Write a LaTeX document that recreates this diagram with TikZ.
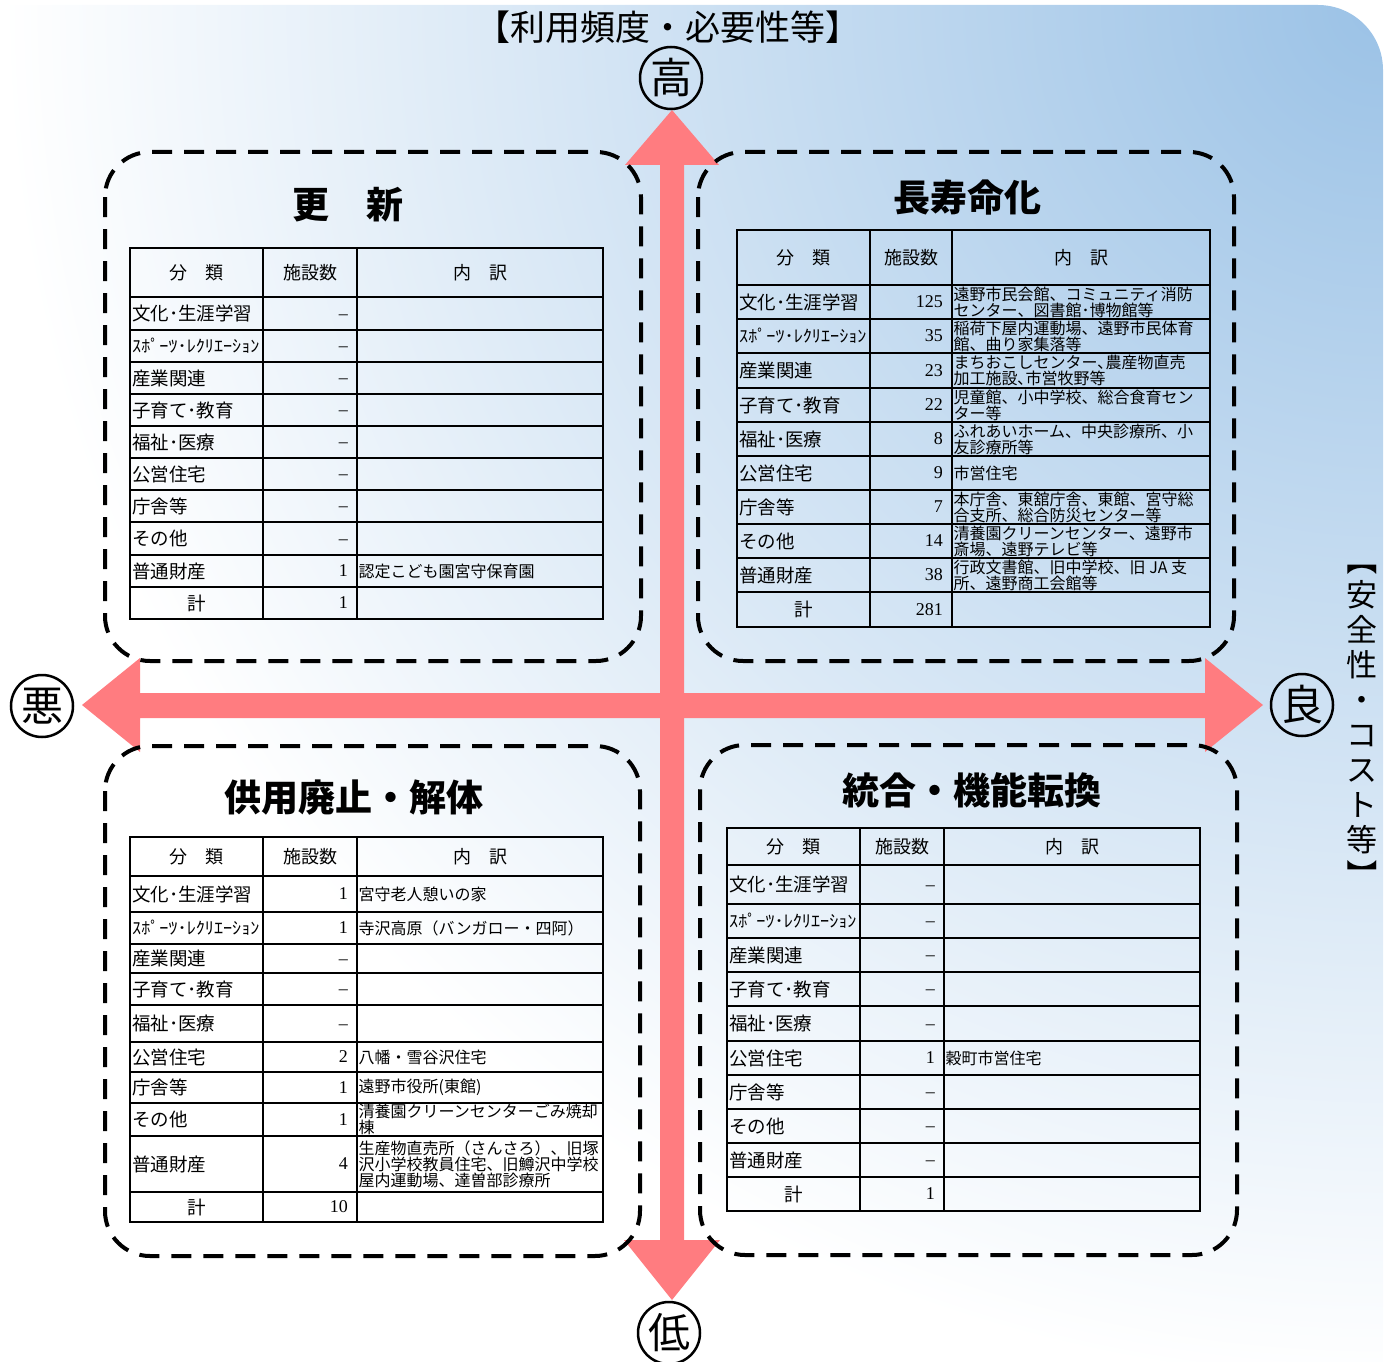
\documentclass[tikz,border=0pt]{standalone}
\usepackage{fontspec}
\usepackage{graphicx}
\setmainfont{Noto Sans CJK JP}
\newfontfamily\numfont{Liberation Serif}
\definecolor{bgblue}{HTML}{9BC2E6}
\definecolor{arrowc}{HTML}{FF7C80}
\pgfdeclareradialshading{bgrad}{\pgfpoint{0bp}{0bp}}{color(0bp)=(bgblue); color(25bp)=(white); color(50bp)=(white)}
\newcommand\nd{\vphantom{0}–}
\newcommand\spo{\scalebox{1.07}[1]{\fontsize{17}{17}\selectfont ｽﾎﾟｰﾂ･ﾚｸﾘｴｰｼｮﾝ}}
\newcommand\qrow[6]{%
  \node[catf,anchor=west] (#1c) at ({\qxa+2},{(#2+#3)/2}) {#4};
  \node[numf,anchor=east] (#1n) at ({\qxc-9},{(#2+#3)/2}) {#5};
  \node[descf,anchor=west] (#1d) at ({\qxc+1.5},{(#2+#3)/2}) {#6};
}
\newcommand\qhead[3]{%
  \node[hdf] (#1h1) at ({(\qxa+\qxb)/2},{(#2+#3)/2}) {分　類};
  \node[hdf] (#1h2) at ({(\qxb+\qxc)/2},{(#2+#3)/2}) {施設数};
  \node[hdf] (#1h3) at ({(\qxc+\qxd)/2},{(#2+#3)/2}) {内　訳};
}
\newcommand\qtot[4]{%
  \node[catf] (#1c) at ({(\qxa+\qxb)/2},{(#2+#3)/2}) {計};
  \node[numf,anchor=east] (#1n) at ({\qxc-9},{(#2+#3)/2}) {#4};
}
\newcommand\qgrid[3]{% ytop ybot inner-list
  \draw[tbl] (\qxa,#1) rectangle (\qxd,#2);
  \draw[tbl] (\qxb,#1) -- (\qxb,#2) (\qxc,#1) -- (\qxc,#2);
  \foreach \yy in {#3} {\draw[tbl] (\qxa,\yy) -- (\qxd,\yy);}
}
\tikzset{
  tbl/.style={line width=2.5pt},
  qbox/.style={line width=4pt, dash pattern=on 20pt off 12pt, rounded corners=45pt},
  catf/.style={inner sep=0pt, font=\fontsize{18.5}{20}\selectfont},
  hdf/.style={inner sep=0pt, font=\fontsize{18}{20}\selectfont},
  numf/.style={inner sep=0pt, font=\numfont\fontsize{18}{20}\selectfont},
  descf/.style={inner sep=0pt, align=left, font=\fontsize{16}{16}\selectfont},
  ttl/.style={inner sep=0pt, font=\bfseries\fontsize{37}{40}\selectfont},
  axl/.style={inner sep=0pt, font=\fontsize{35}{38}\selectfont},
  circ/.style={circle, draw, line width=2.5pt, minimum size=62pt, inner sep=0pt, font=\fontsize{42}{42}\selectfont},
}
\begin{document}
\begin{tikzpicture}[x=1pt,y=-1pt]
\useasboundingbox (0,0) rectangle (1395,1362);
% background
\begin{scope}
\clip (0,1362) -- (0,5) -- (1318,5) arc[start angle=-90,end angle=0,radius=65] -- (1383,1362) -- cycle;
\shade[shading=bgrad] (1383,5) circle[radius=1380];
\end{scope}
% arrows
\fill[arrowc] (672,110) -- (719,165) -- (684,165) -- (684,1240) -- (720,1240) -- (672,1300) -- (624,1240) -- (660,1240) -- (660,165) -- (625,165) -- cycle;
\fill[arrowc] (82,705) -- (140,658) -- (140,693) -- (1205,693) -- (1205,658) -- (1263,705) -- (1205,752) -- (1205,718) -- (140,718) -- (140,752) -- cycle;
% boxes
\draw[qbox] (105,152) rectangle (641,661);
\draw[qbox] (698,152) rectangle (1234,661);
\draw[qbox] (105,746) rectangle (640,1256);
\draw[qbox] (700,745) rectangle (1237,1255);
% titles
\node[ttl] (t1) at (348,205) {更　新};
\node[ttl] (t2) at (967,197) {長寿命化};
\node[ttl] (t3) at (354,798) {供用廃止・解体};
\node[ttl] (t4) at (972,790) {統合・機能転換};
% axis labels
\node[axl] (ax1) at (668,27) {【利用頻度・必要性等】};
\node[axl, align=center, font=\fontsize{31}{35}\selectfont] (ax2) at (1362,717)
  {\rotatebox[origin=c]{-90}{【}\\安\\全\\性\\・\\コ\\ス\\ト\\等\\\rotatebox[origin=c]{-90}{】}};
\node[circ] (hi) at (671,78) {高};
\node[circ] (lo) at (669,1333) {低};
\node[circ] (bad) at (42,706) {悪};
\node[circ] (good) at (1302,705) {良};
% ---- table TL
\def\qxa{130}\def\qxb{263}\def\qxc{357}\def\qxd{603}
\qgrid{248}{619}{297,330,362,394,426,458,490,522,555,587}
\qhead{a}{248}{297}
\qrow{a1}{297}{330}{文化･生涯学習}{\nd}{}
\qrow{a2}{330}{362}{\spo}{\nd}{}
\qrow{a3}{362}{394}{産業関連}{\nd}{}
\qrow{a4}{394}{426}{子育て･教育}{\nd}{}
\qrow{a5}{426}{458}{福祉･医療}{\nd}{}
\qrow{a6}{458}{490}{公営住宅}{\nd}{}
\qrow{a7}{490}{522}{庁舎等}{\nd}{}
\qrow{a8}{522}{555}{その他}{\nd}{}
\qrow{a9}{555}{587}{普通財産}{1}{認定こども園宮守保育園}
\qtot{a10}{587}{619}{1}
% ---- table TR
\def\qxa{737}\def\qxb{870}\def\qxc{952}\def\qxd{1210}
\qgrid{230}{627}{285,319,353,388,422,456,490,524,558,592}
\qhead{b}{230}{285}
\qrow{b1}{285}{319}{文化･生涯学習}{125}{遠野市民会館、コミュニティ消防\\センター、図書館･博物館等}
\qrow{b2}{319}{353}{\spo}{35}{稲荷下屋内運動場、遠野市民体育\\館、曲り家集落等}
\qrow{b3}{353}{388}{産業関連}{23}{まちおこしセンター､農産物直売\\加工施設､市営牧野等}
\qrow{b4}{388}{422}{子育て･教育}{22}{児童館、小中学校、総合食育セン\\ター等}
\qrow{b5}{422}{456}{福祉･医療}{8}{ふれあいホーム、中央診療所、小\\友診療所等}
\qrow{b6}{456}{490}{公営住宅}{9}{市営住宅}
\qrow{b7}{490}{524}{庁舎等}{7}{本庁舎、東舘庁舎、東館、宮守総\\合支所、総合防災センター等}
\qrow{b8}{524}{558}{その他}{14}{清養園クリーンセンター、遠野市\\斎場、遠野テレビ等}
\qrow{b9}{558}{592}{普通財産}{38}{行政文書館、旧中学校、旧 JA 支\\所、遠野商工会館等}
\qtot{b10}{592}{627}{281}
% ---- table BL
\def\qxa{130}\def\qxb{263}\def\qxc{357}\def\qxd{603}
\qgrid{837}{1222}{876,912,944,973,1005,1042,1072,1103,1136,1192}
\qhead{c}{837}{876}
\qrow{c1}{876}{912}{文化･生涯学習}{1}{宮守老人憩いの家}
\qrow{c2}{912}{944}{\spo}{1}{寺沢高原（バンガロー・四阿）}
\qrow{c3}{944}{973}{産業関連}{\nd}{}
\qrow{c4}{973}{1005}{子育て･教育}{\nd}{}
\qrow{c5}{1005}{1042}{福祉･医療}{\nd}{}
\qrow{c6}{1042}{1072}{公営住宅}{2}{八幡・雪谷沢住宅}
\qrow{c7}{1072}{1103}{庁舎等}{1}{遠野市役所(東館)}
\qrow{c8}{1103}{1136}{その他}{1}{清養園クリーンセンターごみ焼却\\棟}
\qrow{c9}{1136}{1192}{普通財産}{4}{生産物直売所（さんさろ）、旧塚\\沢小学校教員住宅、旧鱒沢中学校\\屋内運動場、達曽部診療所}
\qtot{c10}{1192}{1222}{10}
% ---- table BR
\def\qxa{727}\def\qxb{860}\def\qxc{944}\def\qxd{1200}
\qgrid{828}{1211}{865,904,938,972,1006,1041,1075,1109,1143,1177}
\qhead{d}{828}{865}
\qrow{d1}{865}{904}{文化･生涯学習}{\nd}{}
\qrow{d2}{904}{938}{\spo}{\nd}{}
\qrow{d3}{938}{972}{産業関連}{\nd}{}
\qrow{d4}{972}{1006}{子育て･教育}{\nd}{}
\qrow{d5}{1006}{1041}{福祉･医療}{\nd}{}
\qrow{d6}{1041}{1075}{公営住宅}{1}{穀町市営住宅}
\qrow{d7}{1075}{1109}{庁舎等}{\nd}{}
\qrow{d8}{1109}{1143}{その他}{\nd}{}
\qrow{d9}{1143}{1177}{普通財産}{\nd}{}
\qtot{d10}{1177}{1211}{1}
\end{tikzpicture}
\end{document}
